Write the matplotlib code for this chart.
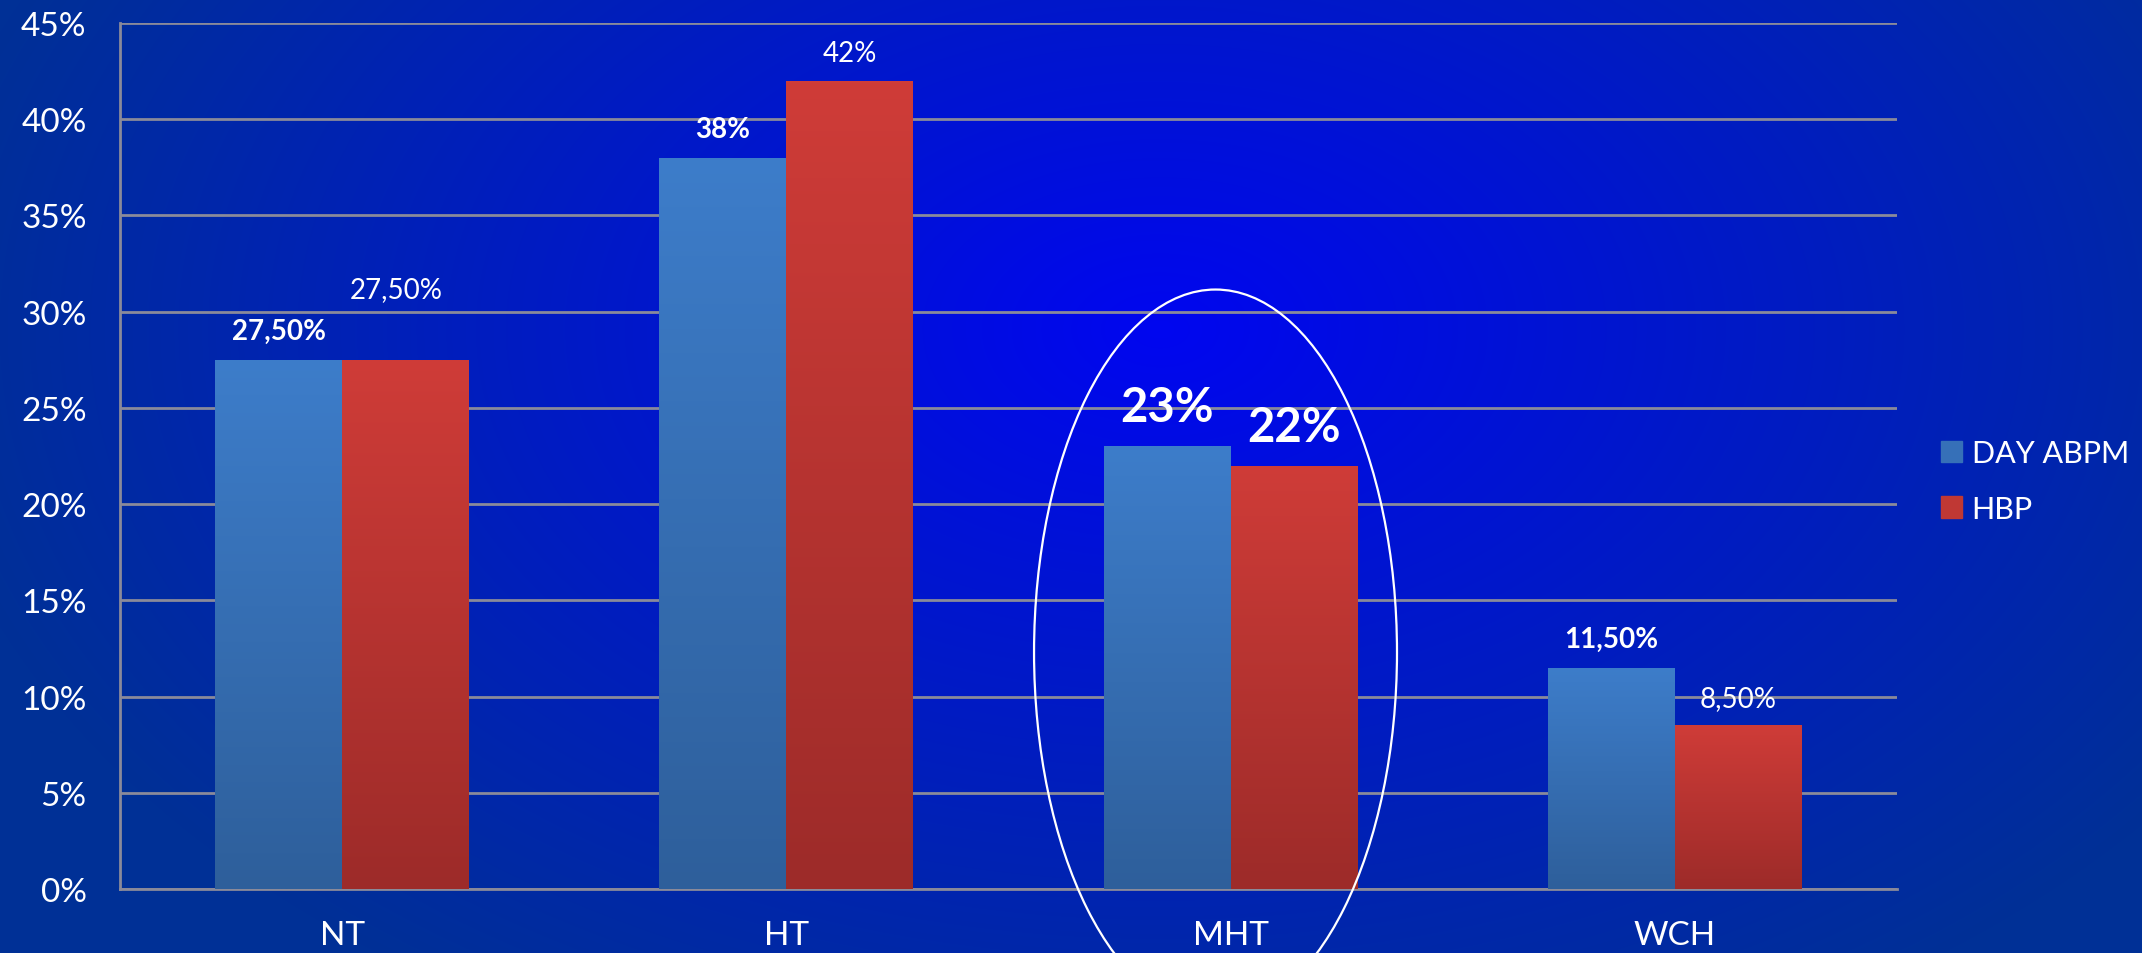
import numpy as np
import matplotlib.pyplot as plt
from matplotlib.patches import Ellipse, Patch
from matplotlib.colors import LinearSegmentedColormap

plt.rcParams['font.family'] = ['Lato', 'DejaVu Sans']

categories = ['NT', 'HT', 'MHT', 'WCH']
day_abpm = [27.5, 38, 23, 11.5]
hbp = [27.5, 42, 22, 8.5]
day_labels = ['27,50%', '38%', '23%', '11,50%']
hbp_labels = ['27,50%', '42%', '22%', '8,50%']
yticks = [0, 5, 10, 15, 20, 25, 30, 35, 40, 45]

W, H = 2142, 954
fig = plt.figure(figsize=(W / 100, H / 100), dpi=100)

# radial blue background behind everything
bg = fig.add_axes([0, 0, 1, 1], zorder=-10)
yy, xx = np.mgrid[0:H, 0:W]
d = np.sqrt(((xx - 1160) / 1250) ** 2 + ((yy - 330) / 800) ** 2)
d = np.clip(d, 0, 1)
c_in = np.array([0, 6, 240]) / 255
c_out = np.array([0, 48, 150]) / 255
img = c_in[None, None, :] * (1 - d[..., None]) + c_out[None, None, :] * d[..., None]
bg.imshow(img, aspect='auto', extent=[0, 1, 0, 1])
bg.axis('off')

ax = fig.add_axes([120 / W, 1 - 890 / H, (1897 - 120) / W, (890 - 24) / H])
ax.patch.set_alpha(0)

x = np.arange(len(categories))
w = 1 / 3.5
b1 = ax.bar(x - w / 2, day_abpm, w, color='#3a78c4', zorder=3)
b2 = ax.bar(x + w / 2, hbp, w, color='#c83a36', zorder=3)

blue_cmap = LinearSegmentedColormap.from_list('b', ['#2e5f9b', '#3d7dca'])
red_cmap = LinearSegmentedColormap.from_list('r', ['#9d2b29', '#cf3c38'])
grad = np.linspace(0, 1, 256).reshape(-1, 1)
for bars, cmap in [(b1, blue_cmap), (b2, red_cmap)]:
    for p in bars:
        x0, y0 = p.get_x(), p.get_y()
        im = ax.imshow(grad, cmap=cmap, origin='lower', aspect='auto',
                       extent=[x0, x0 + p.get_width(), y0, y0 + p.get_height()],
                       zorder=4)
        im.set_clip_path(p)

ax.set_xlim(-0.5, 3.5)
ax.set_ylim(0, 45)
ax.set_yticks(yticks)
ax.set_yticklabels([f'{t}%' for t in yticks])
ax.set_xticks(x)
ax.set_xticklabels(categories)
ax.tick_params(length=0, labelsize=24, colors='white')
ax.tick_params(axis='y', pad=24)
ax.tick_params(axis='x', pad=22)
ax.grid(axis='y', color='#8a8a9a', lw=2, zorder=1)
for s in ['top', 'right']:
    ax.spines[s].set_visible(False)
for s in ['left', 'bottom']:
    ax.spines[s].set_color('#8a8a9a')
    ax.spines[s].set_linewidth(2)

# value labels
day_off = [1.09, 1.09, 1.32, 1.08]
hbp_off = [3.27, 1.03, 1.28, 1.01]
hbp_dx = [-0.02, 0, 0, 0]
for i in range(len(categories)):
    big = categories[i] == 'MHT'
    ax.text(x[i] - w / 2, day_abpm[i] + day_off[i], day_labels[i], ha='center',
            va='baseline', color='white', fontweight='bold',
            fontsize=34 if big else 20, zorder=6)
    ax.text(x[i] + w / 2 + hbp_dx[i], hbp[i] + hbp_off[i], hbp_labels[i], ha='center',
            va='baseline', color='white', fontweight='bold' if big else 'normal',
            fontsize=34 if big else 20, zorder=6)

# highlight around MHT
ax.add_patch(Ellipse((1.966, 12.3), 0.817, 37.7, fill=False, ec='white', lw=1.6,
                     clip_on=False, zorder=7))

handles = [Patch(color='#3670b8', label='DAY ABPM'), Patch(color='#c03834', label='HBP')]
fig.legend(handles=handles, loc='center left', bbox_to_anchor=(1941 / W, 1 - 482 / H),
           frameon=False, fontsize=22, labelcolor='white', handlelength=0.7,
           handleheight=0.7, handletextpad=0.3, labelspacing=0.9, borderpad=0,
           borderaxespad=0)

fig.savefig('out.png', dpi=100)
